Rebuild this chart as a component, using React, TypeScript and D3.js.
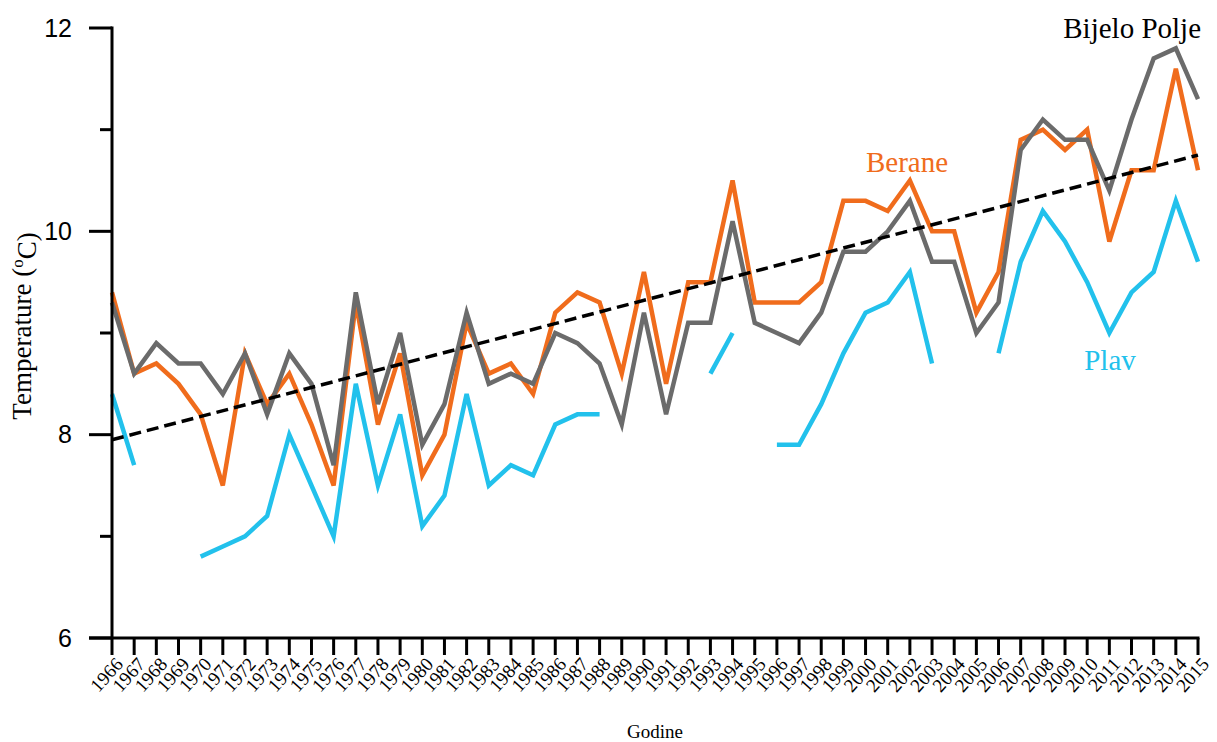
import React, { useEffect, useRef } from "react";
import * as d3 from "d3";

const years = d3.range(1966, 2016);

const bijeloPolje = [
  9.3, 8.6, 8.9, 8.7, 8.7, 8.4, 8.8, 8.2, 8.8, 8.5,
  7.7, 9.4, 8.3, 9.0, 7.9, 8.3, 9.2, 8.5, 8.6, 8.5,
  9.0, 8.9, 8.7, 8.1, 9.2, 8.2, 9.1, 9.1, 10.1, 9.1,
  9.0, 8.9, 9.2, 9.8, 9.8, 10.0, 10.3, 9.7, 9.7, 9.0,
  9.3, 10.8, 11.1, 10.9, 10.9, 10.4, 11.1, 11.7, 11.8, 11.3,
];

const berane = [
  9.4, 8.6, 8.7, 8.5, 8.2, 7.5, 8.8, 8.3, 8.6, 8.1,
  7.5, 9.3, 8.1, 8.8, 7.6, 8.0, 9.1, 8.6, 8.7, 8.4,
  9.2, 9.4, 9.3, 8.6, 9.6, 8.5, 9.5, 9.5, 10.5, 9.3,
  9.3, 9.3, 9.5, 10.3, 10.3, 10.2, 10.5, 10.0, 10.0, 9.2,
  9.6, 10.9, 11.0, 10.8, 11.0, 9.9, 10.6, 10.6, 11.6, 10.6,
];

// null = no measurement
const plav: (number | null)[] = [
  8.4, 7.7, null, null, 6.8, 6.9, 7.0, 7.2, 8.0, 7.5,
  7.0, 8.5, 7.5, 8.2, 7.1, 7.4, 8.4, 7.5, 7.7, 7.6,
  8.1, 8.2, 8.2, null, null, null, null, 8.6, 9.0, null,
  7.9, 7.9, 8.3, 8.8, 9.2, 9.3, 9.6, 8.7, null, null,
  8.8, 9.7, 10.2, 9.9, 9.5, 9.0, 9.4, 9.6, 10.3, 9.7,
];

const trendYears = [1966, 2015];
const trendValues = [7.95, 10.75];

const yMajorTicks = [6, 8, 10, 12];
const yMinorTicks = [7, 9, 11];

const serif = "'Liberation Serif', 'Times New Roman', serif";
const sans = "'Liberation Sans', Arial, sans-serif";

export default function App() {
  const ref = useRef<SVGSVGElement>(null);

  useEffect(() => {
    const width = 1217;
    const height = 742;
    const svg = d3.select(ref.current).attr("width", width).attr("height", height);
    svg.selectAll("*").remove();

    const x = d3.scaleLinear().domain([1966, 2015]).range([112, 1198]);
    const y = d3.scaleLinear().domain([6, 12]).range([638, 28]);

    // series
    const line = d3
      .line<number | null>()
      .defined((d) => d !== null)
      .x((_, i) => x(years[i]))
      .y((d) => y(d as number));

    const series: { data: (number | null)[]; color: string }[] = [
      { data: plav, color: "#22c1ec" },
      { data: berane, color: "#f06c1c" },
      { data: bijeloPolje, color: "#6b6b6b" },
    ];
    series.forEach((s) => {
      svg
        .append("path")
        .datum(s.data)
        .attr("fill", "none")
        .attr("stroke", s.color)
        .attr("stroke-width", 4.5)
        .attr("stroke-linejoin", "miter")
        .attr("d", line);
    });

    // trend line
    svg
      .append("line")
      .attr("x1", x(trendYears[0]))
      .attr("y1", y(trendValues[0]))
      .attr("x2", x(trendYears[1]))
      .attr("y2", y(trendValues[1]))
      .attr("stroke", "#000")
      .attr("stroke-width", 3.5)
      .attr("stroke-dasharray", "12 6");

    // axes
    const axis = svg.append("g").attr("stroke", "#000").attr("stroke-width", 3);
    axis.append("line").attr("x1", 112).attr("x2", 112).attr("y1", y(12) - 1.5).attr("y2", y(6));
    axis.append("line").attr("x1", 89).attr("x2", x(2015) + 1.5).attr("y1", y(6)).attr("y2", y(6));
    yMajorTicks.forEach((t) => {
      axis.append("line").attr("x1", 89).attr("x2", 112).attr("y1", y(t)).attr("y2", y(t));
    });
    yMinorTicks.forEach((t) => {
      axis.append("line").attr("x1", 100).attr("x2", 112).attr("y1", y(t)).attr("y2", y(t));
    });
    years.forEach((yr) => {
      axis.append("line").attr("x1", x(yr)).attr("x2", x(yr)).attr("y1", y(6)).attr("y2", y(6) + 17);
    });

    svg
      .selectAll(".ylab")
      .data(yMajorTicks)
      .enter()
      .append("text")
      .attr("x", 72)
      .attr("y", (d) => y(d))
      .attr("dy", "0.35em")
      .attr("text-anchor", "end")
      .style("font-family", sans)
      .style("font-size", "25px")
      .text((d) => d);

    svg
      .selectAll(".xlab")
      .data(years)
      .enter()
      .append("text")
      .attr("transform", (d) => `translate(${x(d) + 12}, ${y(6) + 27}) rotate(-48)`)
      .attr("text-anchor", "end")
      .style("font-family", serif)
      .style("font-size", "19px")
      .text((d) => d);

    svg
      .append("text")
      .attr("x", 655)
      .attr("y", 738)
      .attr("text-anchor", "middle")
      .style("font-family", serif)
      .style("font-size", "19px")
      .text("Godine");

    const yTitle = svg
      .append("text")
      .attr("transform", `translate(31, 326) rotate(-90)`)
      .attr("text-anchor", "middle")
      .style("font-family", serif)
      .style("font-size", "27px");
    yTitle.append("tspan").text("Temperature (");
    yTitle.append("tspan").attr("dy", "-0.45em").style("font-size", "17px").text("o");
    yTitle.append("tspan").attr("dy", "0.45em").text("C)");

    // series labels
    const labels = [
      { text: "Bijelo Polje", x: 1201, y: 38, color: "#000", anchor: "end" },
      { text: "Berane", x: 907, y: 172, color: "#f06c1c", anchor: "middle" },
      { text: "Plav", x: 1110, y: 370, color: "#22c1ec", anchor: "middle" },
    ];
    labels.forEach((l) => {
      svg
        .append("text")
        .attr("x", l.x)
        .attr("y", l.y)
        .attr("text-anchor", l.anchor)
        .attr("fill", l.color)
        .style("font-family", serif)
        .style("font-size", "29px")
        .text(l.text);
    });
  }, []);

  return (
    <svg
      ref={ref}
      style={{ position: "absolute", left: 0, top: 0, background: "#fff" }}
    ></svg>
  );
}
